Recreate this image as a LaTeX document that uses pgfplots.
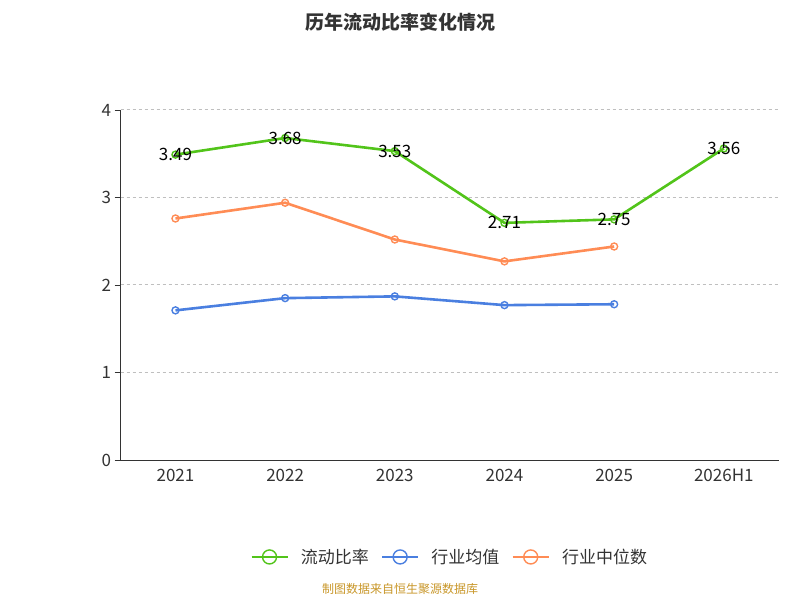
\documentclass[border=0pt]{standalone}
\usepackage{pgfplots}
\pgfplotsset{compat=1.18}
\usepackage{fontspec}
\setmainfont{Noto Sans CJK SC}
\definecolor{cg}{HTML}{52C41A}
\definecolor{cb}{HTML}{4A7FE0}
\definecolor{co}{HTML}{FF8C55}
\definecolor{tx}{HTML}{333333}
\begin{document}
\begin{tikzpicture}[x=1pt,y=1pt]
\useasboundingbox (0,0) rectangle (800,600);
\node[font=\bfseries\fontsize{19}{21}\selectfont, text=tx] at (400,578) {历年流动比率变化情况};
\node[font=\fontsize{12}{13}\selectfont, text={rgb,255:red,200;green,150;blue,40}] at (400,11) {制图数据来自恒生聚源数据库};
\begin{axis}[at={(110,160)}, anchor=south west, scale only axis, width=658, height=350,
 xmin=-0.5, xmax=5.5, ymin=0, ymax=4,
 xtick={0,...,5}, xticklabels={2021,2022,2023,2024,2025,2026H1},
 major x tick style={draw=none},
 extra x ticks={-0.5,0.5,...,5.5}, extra x tick labels={},
 extra x tick style={tick style={draw=tx}, major tick length=6pt, tick align=outside, grid=none},
 ytick={0,...,4}, ymajorgrids, grid style={dashed, gray!50, line width=1pt},
 axis x line*=bottom, axis y line*=left,
 axis line style={tx, line width=1pt}, y tick style={tx}, tick align=outside, major tick length=6pt,
 ticklabel style={font=\fontsize{17}{18}\selectfont, text=tx},
 /pgf/number format/assume math mode=true,
 legend style={at={(0.5,-0.277)}, anchor=center, draw=none, legend columns=3,
   font=\fontsize{17}{18}\selectfont, column sep=10pt, text=tx},
 legend image code/.code={\draw[#1] (0pt,0pt) -- (36pt,0pt); \draw[#1, mark size=7pt, fill=white] plot coordinates {(18pt,0pt)};},
 every axis plot/.append style={line width=2.6pt, mark=o, mark size=3.5pt, mark options={fill=white, line width=1.4pt}},
]
\addplot[cg, nodes near coords, point meta=explicit symbolic,
  every node near coord/.style={anchor=center, font=\fontsize{17}{18}\selectfont, text=black}]
 coordinates {(0,3.49)[3.49] (1,3.68)[3.68] (2,3.53)[3.53] (3,2.71)[2.71] (4,2.75)[2.75] (5,3.56)[3.56]};
\addlegendentry{流动比率}
\addplot[cb] coordinates {(0,1.71) (1,1.85) (2,1.87) (3,1.77) (4,1.78)};
\addlegendentry{行业均值}
\addplot[co] coordinates {(0,2.76) (1,2.94) (2,2.52) (3,2.27) (4,2.44)};
\addlegendentry{行业中位数}
\end{axis}
\end{tikzpicture}
\end{document}
